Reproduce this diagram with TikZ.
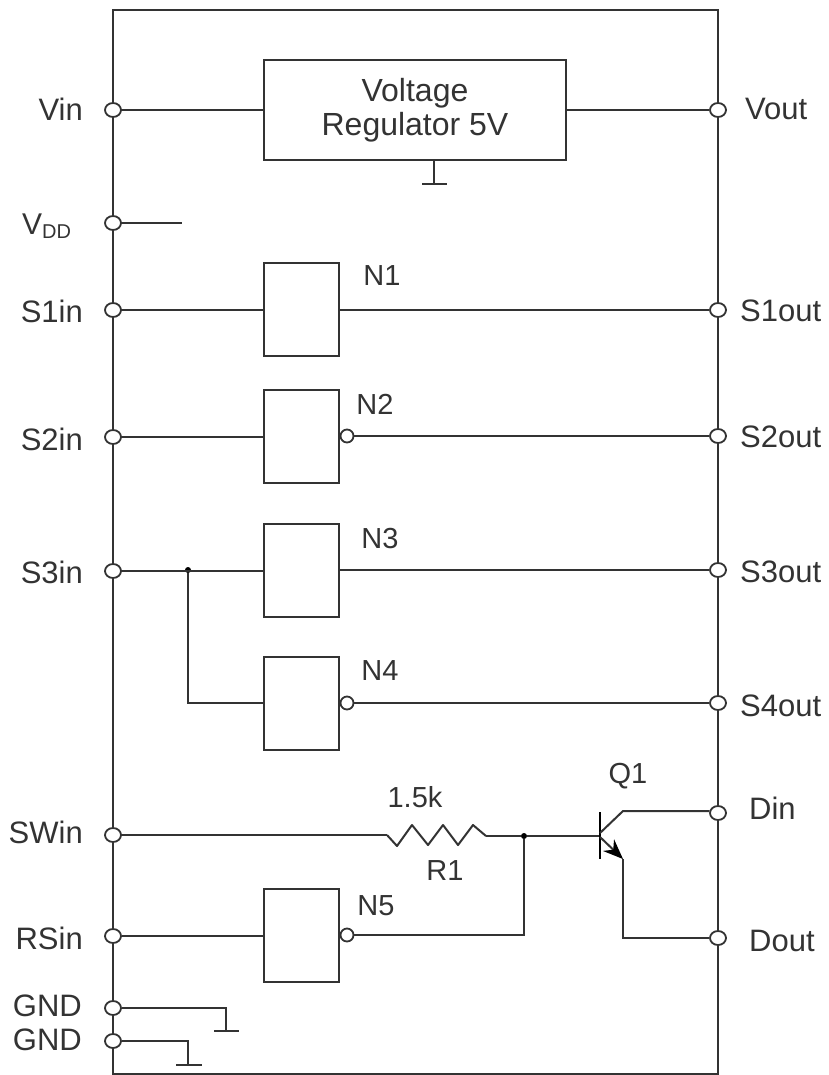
\documentclass[tikz,border=0pt]{standalone}
\usepackage{fontspec}
\setmainfont{Liberation Sans}
\usetikzlibrary{shapes.geometric,arrows.meta}
\definecolor{ink}{HTML}{333333}
\tikzset{
  wire/.style={draw=ink,line width=2pt,line join=miter},
  pin/.style={ellipse,draw=ink,line width=1.8pt,fill=white,minimum width=16pt,minimum height=14pt,inner sep=0pt},
  bub/.style={circle,draw=ink,line width=1.8pt,fill=white,minimum size=13pt,inner sep=0pt},
  block/.style={rectangle,draw=ink,line width=2pt,fill=white,inner sep=0pt,minimum width=75pt,minimum height=93pt},
  dotn/.style={circle,fill=black,minimum size=6pt,inner sep=0pt},
  lab/.style={text=ink,font=\fontsize{29}{34}\selectfont,inner sep=0pt},
  ll/.style={lab,anchor=east,font=\fontsize{31}{34}\selectfont},
  rl/.style={lab,anchor=west,font=\fontsize{31}{34}\selectfont},
}
\begin{document}
\begin{tikzpicture}[x=1pt,y=-1pt]
\useasboundingbox (0,0) rectangle (828,1075);
\node[rectangle,draw=ink,line width=2pt,inner sep=0pt,minimum width=605pt,minimum height=1064pt] (frame) at (415.5,542) {};
% pins
\foreach \n/\x/\y in {vin/113/110,vdd/113/223,sa/113/310,sb/113/437,sc/113/571,sw/113/835,rs/113/936,gnda/113/1008,gndb/113/1041,
  vout/718/110,oa/718/310,ob/718/436,oc/718/570,od/718/703,din/718/813,dout/718/938}
  \node[pin] (\n) at (\x,\y) {};
% blocks
\node[block,minimum width=302pt,minimum height=100pt,align=center,text=ink,font=\fontsize{32}{34}\selectfont] (reg) at (415,110) {Voltage\\Regulator 5V};
\node[block] (n1) at (301.5,309.5) {};
\node[block] (n2) at (301.5,436.5) {};
\node[block] (n3) at (301.5,570) {};
\node[block] (n4) at (301.5,703) {};
\node[block] (n5) at (301.5,935.5) {};
\node[bub] (b2) at (347,436) {};
\node[bub] (b4) at (347,703) {};
\node[bub] (b5) at (347,935) {};
% coordinates
\coordinate (vddend) at (182,223);
\coordinate (rt) at (434,160);
\coordinate (rg) at (434,184);
\coordinate (rgl) at (422,184);
\coordinate (rgr) at (447,184);
\coordinate (gac) at (226,1008);
\coordinate (gag) at (226,1031);
\coordinate (gal) at (214,1031);
\coordinate (gar) at (239,1031);
\coordinate (gbc) at (188,1041);
\coordinate (gbg) at (188,1065);
\coordinate (gbl) at (176,1065);
\coordinate (gbr) at (202,1065);
\node[dotn] (jc) at (188,570) {};
\node[dotn] (jq) at (524,836) {};
\coordinate (r0) at (387,835);
\coordinate (r7) at (486,836);
\coordinate (bs) at (600,836);
\coordinate (bt) at (600,812);
\coordinate (bb) at (600,859);
\coordinate (cc) at (623,811);
\coordinate (ee) at (623,859);
\coordinate (cb) at (600,833);
\coordinate (eb) at (600,837);
% wires
\draw[wire] (vin) -- (reg.west |- vin);
\draw[wire] (reg.east |- vout) -- (vout);
\draw[wire] (rt) -- (rg);
\draw[wire] (rgl) -- (rgr);
\draw[wire] (vdd) -- (vddend);
\draw[wire] (sa) -- (n1.west |- sa);
\draw[wire] (n1.east |- oa) -- (oa);
\draw[wire] (sb) -- (n2.west |- sb);
\draw[wire] (b2) -- (ob);
\draw[wire] (sc) -- (n3.west |- sc);
\draw[wire] (n3.east |- oc) -- (oc);
\draw[wire] (jc) |- (n4.west);
\draw[wire] (b4) -- (od);
\draw[wire] (sw) -- (r0);
\draw[wire,line join=round] (r0) -- (397,846) -- (412,825) -- (428,845) -- (443,825) -- (458,845) -- (473,825) -- (r7);
\draw[wire] (r7) -- (jq);
\draw[wire] (jq) -- (bs);
\draw[draw=black,line width=1.6pt] (bt) -- (bb);
\draw[wire] (cb) -- (cc) -- (cc -| din.west);
\draw[wire] (cc -| din.west) -- (din);
\draw[wire] (ee) |- (dout);
\draw[wire,-{Stealth[length=20pt,width=16pt,black]}] (eb) -- (ee);
\draw[wire] (rs) -- (n5.west |- rs);
\draw[wire] (b5) -| (jq);
\draw[wire] (gnda) -| (gag);
\draw[wire] (gal) -- (gar);
\draw[wire] (gndb) -| (gbg);
\draw[wire] (gbl) -- (gbr);
% labels
\node[ll] (tvin) at (83,109) {Vin};
\node[lab,anchor=west,font=\fontsize{30}{34}\selectfont] (tvdd) at (22,226) {V\raisebox{-4pt}{\fontsize{20}{20}\selectfont DD}};
\node[ll] (tsa) at (83,311) {S1in};
\node[ll] (tsb) at (83,439) {S2in};
\node[ll] (tsc) at (83,572) {S3in};
\node[ll] (tsw) at (83,832) {SWin};
\node[ll] (trs) at (83,938) {RSin};
\node[ll] (tga) at (82,1006) {GND};
\node[ll] (tgb) at (82,1040) {GND};
\node[rl] (tvo) at (745,109) {Vout};
\node[rl] (toa) at (740,311) {S1out};
\node[rl] (tob) at (740,437) {S2out};
\node[rl] (toc) at (740,572) {S3out};
\node[rl] (tod) at (740,706) {S4out};
\node[rl] (tdi) at (749,808) {Din};
\node[rl] (tdo) at (749,941) {Dout};
\node[lab] (tn1) at (382,276) {N1};
\node[lab] (tn2) at (375,404) {N2};
\node[lab] (tn3) at (380,539) {N3};
\node[lab] (tn4) at (380,671) {N4};
\node[lab] (tn5) at (376,906) {N5};
\node[lab] (tk) at (415,797) {1.5k};
\node[lab] (tr) at (445,871) {R1};
\node[lab] (tq) at (628,776) {Q1};
\end{tikzpicture}
\end{document}
